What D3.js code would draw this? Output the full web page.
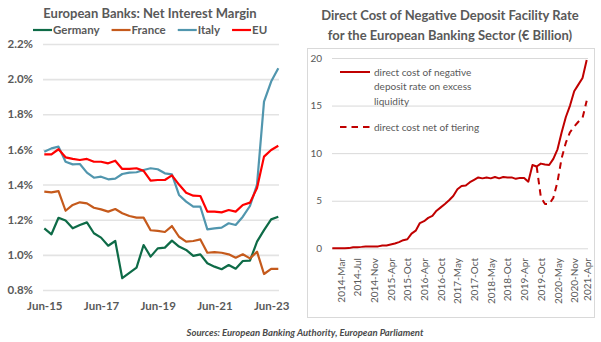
<!DOCTYPE html>
<html>
<head>
<meta charset="utf-8">
<script src="https://cdn.jsdelivr.net/npm/d3@7"></script>
<style>
  html, body { margin: 0; padding: 0; background: #fff; }
  svg { display: block; font-family: Lato, "Open Sans", sans-serif; }
</style>
</head>
<body>
<svg id="chart" width="601" height="342"></svg>
<script>
// ---- Net interest margin (%), quarterly Jun-15 .. Sep-23 ----
const germany = [1.151,1.117,1.211,1.195,1.151,1.17,1.185,1.123,1.098,1.052,1.079,0.867,0.898,0.927,1.056,0.99,1.037,1.041,1.081,1.047,1.028,0.994,1.003,0.952,0.933,0.918,0.942,0.921,0.965,0.967,1.075,1.141,1.202,1.217];
const france  = [1.36,1.356,1.363,1.251,1.284,1.299,1.293,1.268,1.259,1.246,1.261,1.237,1.221,1.212,1.212,1.14,1.136,1.13,1.164,1.103,1.075,1.079,1.088,1.012,1.016,1.012,1.003,0.984,1.003,0.98,1.018,0.891,0.92,0.92];
const italy   = [1.587,1.606,1.616,1.53,1.515,1.517,1.468,1.439,1.445,1.43,1.434,1.46,1.468,1.47,1.483,1.493,1.487,1.464,1.458,1.341,1.303,1.274,1.274,1.145,1.151,1.155,1.18,1.17,1.217,1.278,1.40,1.872,1.986,2.062];
const eu      = [1.572,1.572,1.601,1.555,1.546,1.54,1.546,1.53,1.53,1.521,1.536,1.489,1.489,1.493,1.478,1.422,1.426,1.426,1.452,1.40,1.354,1.337,1.335,1.246,1.246,1.242,1.255,1.246,1.284,1.297,1.38,1.559,1.597,1.621];
const nimTicks = [0.8, 1.0, 1.2, 1.4, 1.6, 1.8, 2.0, 2.2];
const nimSeries = [
  { name: "Germany", values: germany, color: "#0E6B47" },
  { name: "France",  values: france,  color: "#C55A1C" },
  { name: "Italy",   values: italy,   color: "#5196AE" },
  { name: "EU",      values: eu,      color: "#FF0000" }
];

// ---- Direct cost of the negative deposit facility rate (EUR bn), per maintenance period ----
const directCost = [0,0,0,0,0.02,0.1,0.12,0.15,0.2,0.2,0.2,0.2,0.3,0.3,0.4,0.5,0.65,0.85,0.95,1.55,1.85,2.65,2.85,3.2,3.4,3.95,4.3,4.65,5.05,5.5,6.2,6.55,6.6,6.95,7.2,7.45,7.35,7.45,7.35,7.5,7.35,7.5,7.45,7.45,7.3,7.4,7.4,7.0,8.75,8.6,8.9,8.8,8.75,9.4,10.4,12.2,13.8,15.0,16.5,17.2,17.9,19.8];
const netOfTiering = Array(49).fill(null).concat([8.6,5.4,4.65,4.65,5.3,7.0,9.5,11.1,12.2,12.8,13.3,13.7,15.5]);
const periodLabels = ["2014-Mar","2014-Jul","2014-Nov","2015-Apr","2015-Oct","2016-Apr","2016-Oct","2017-May","2017-Oct","2018-May","2018-Oct","2019-Apr","2019-Oct","2020-May","2020-Nov","2021-Apr"];
const costTicks = [0, 5, 10, 15, 20];

const svg = d3.select("#chart");
const txt = "#595959";

// ================= Left: net interest margin =================
const quarters = germany.map((_, i) => new Date(2015, 5 + 3 * i, 1));
const xL = d3.scaleTime().domain(d3.extent(quarters)).range([44.3, 278.3]);
const yL = d3.scaleLinear().domain([0.8, 2.2]).range([290, 44]);

svg.append("text")
  .attr("x", 150).attr("y", 18)
  .attr("text-anchor", "middle")
  .attr("font-size", 13).attr("font-weight", 700).attr("fill", txt)
  .text("European Banks: Net Interest Margin");

// gridlines + y labels
const gyL = svg.append("g").attr("transform", "translate(43,0)")
  .call(d3.axisLeft(yL).tickValues(nimTicks).tickSize(-236).tickPadding(10)
    .tickFormat(d => d.toFixed(1) + "%"));
gyL.select(".domain").remove();
gyL.selectAll(".tick line").attr("stroke", "#E3E3E3").attr("stroke-width", 1.6);
gyL.selectAll(".tick text").attr("font-family", "Lato").attr("font-size", 11.5)
  .attr("font-weight", 700).attr("fill", txt);

// x labels
const junTicks = quarters.filter(d => d.getMonth() === 5 && d.getFullYear() % 2 === 1);
const gxL = svg.append("g").attr("transform", "translate(0,290)")
  .call(d3.axisBottom(xL).tickValues(junTicks).tickSize(0).tickPadding(12)
    .tickFormat(d3.timeFormat("%b-%y")));
gxL.select(".domain").remove();
gxL.selectAll(".tick text").attr("font-family", "Lato").attr("font-size", 11.5)
  .attr("font-weight", 700).attr("fill", txt);

const lineL = d3.line().x((d, i) => xL(quarters[i])).y(d => yL(d));
svg.append("g").selectAll("path").data(nimSeries).join("path")
  .attr("d", s => lineL(s.values))
  .attr("fill", "none").attr("stroke", s => s.color)
  .attr("stroke-width", 2.2).attr("stroke-linejoin", "round");

// legend
const legL = svg.append("g").attr("transform", "translate(0,30)");
let lx = 33;
nimSeries.forEach(s => {
  legL.append("line").attr("x1", lx).attr("x2", lx + 19).attr("y1", 0).attr("y2", 0)
    .attr("stroke", s.color).attr("stroke-width", 2.2);
  const t = legL.append("text").attr("x", lx + 20).attr("y", 4)
    .attr("font-size", 11.5).attr("font-weight", 700).attr("fill", txt).text(s.name);
  lx += 20 + t.node().getComputedTextLength() + 12;
});

// ================= Right: cost of negative DFR =================
svg.append("text")
  .attr("x", 450).attr("y", 20)
  .attr("text-anchor", "middle")
  .attr("font-size", 13).attr("font-weight", 700).attr("fill", txt)
  .text("Direct Cost of Negative Deposit Facility Rate");
svg.append("text")
  .attr("x", 450).attr("y", 40)
  .attr("text-anchor", "middle")
  .attr("font-size", 13).attr("font-weight", 700).attr("fill", txt)
  .text("for the European Banking Sector (€ Billion)");

svg.append("rect")
  .attr("x", 307.5).attr("y", 48.5).attr("width", 287).attr("height", 269)
  .attr("fill", "none").attr("stroke", "#D9D9D9").attr("stroke-width", 1);

const xR = d3.scaleLinear().domain([0, directCost.length - 1]).range([332.3, 586.7]);
const yR = d3.scaleLinear().domain([0, 20]).range([248.3, 58]);

const gyR = svg.append("g").attr("transform", "translate(332,0)")
  .call(d3.axisLeft(yR).tickValues(costTicks).tickSize(-256).tickPadding(10));
gyR.select(".domain").remove();
gyR.selectAll(".tick line").attr("stroke", "#D9D9D9").attr("stroke-width", 1);
gyR.selectAll(".tick text").attr("font-family", "Lato").attr("font-size", 10).attr("fill", txt);

const labelIdx = periodLabels.map((_, k) => Math.min(2 + 4 * k, directCost.length - 1));
const gxR = svg.append("g").attr("transform", "translate(0,252)")
  .call(d3.axisBottom(xR).tickValues(labelIdx).tickSize(0).tickPadding(0)
    .tickFormat((d, k) => periodLabels[k]));
gxR.select(".domain").remove();
gxR.selectAll(".tick text")
  .attr("font-family", "Lato").attr("font-size", 10).attr("fill", txt)
  .attr("text-anchor", "end").attr("dy", "0.35em")
  .attr("transform", "translate(0,6) rotate(-90)")
  .attr("y", 0).attr("x", 0);

const lineR = d3.line().defined(d => d !== null).x((d, i) => xR(i)).y(d => yR(d));
svg.append("path").attr("d", lineR(directCost))
  .attr("fill", "none").attr("stroke", "#C00000").attr("stroke-width", 2)
  .attr("stroke-linejoin", "round");
svg.append("path").attr("d", lineR(netOfTiering))
  .attr("fill", "none").attr("stroke", "#C00000").attr("stroke-width", 2)
  .attr("stroke-dasharray", "6.5,5").attr("stroke-linejoin", "round");

// legend inside the plot
const legR = svg.append("g");
legR.append("line").attr("x1", 340).attr("x2", 370).attr("y1", 72).attr("y2", 72)
  .attr("stroke", "#C00000").attr("stroke-width", 2);
["direct cost of negative", "deposit rate on excess", "liquidity"].forEach((s, i) => {
  legR.append("text").attr("x", 374).attr("y", 75.5 + i * 14.5)
    .attr("font-size", 10).attr("fill", txt).text(s);
});
legR.append("line").attr("x1", 340).attr("x2", 370).attr("y1", 127).attr("y2", 127)
  .attr("stroke", "#C00000").attr("stroke-width", 2).attr("stroke-dasharray", "6.5,5");
legR.append("text").attr("x", 374).attr("y", 130.5)
  .attr("font-size", 10).attr("fill", txt).text("direct cost net of tiering");

// sources
svg.append("text")
  .attr("x", 305).attr("y", 336)
  .attr("text-anchor", "middle")
  .attr("font-size", 9.5).attr("font-weight", 700).attr("font-style", "italic").attr("fill", "#4a4a4a")
  .text("Sources: European Banking Authority, European Parliament");
</script>
</body>
</html>
